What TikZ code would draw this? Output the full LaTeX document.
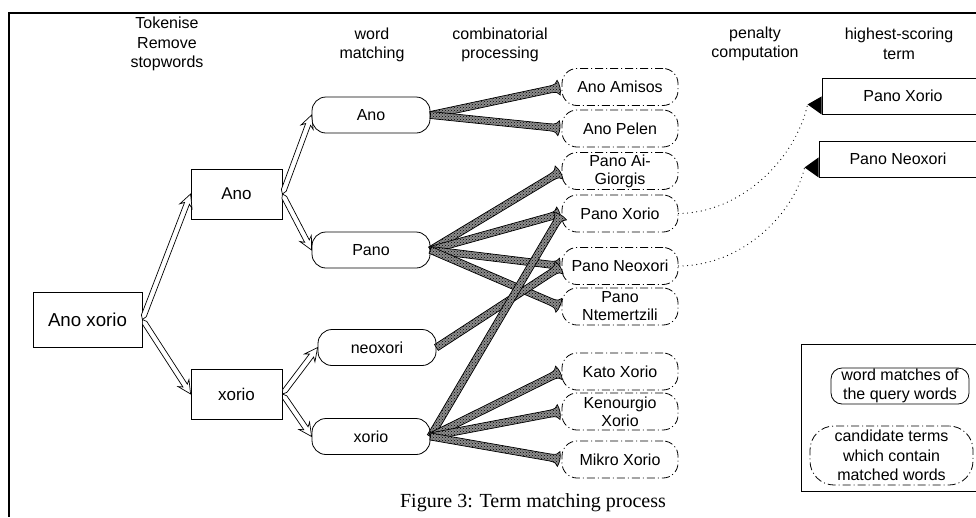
\documentclass[tikz,border=0pt]{standalone}
\usepackage{fontspec}
\setmainfont{Liberation Sans}
\newfontfamily\capfont{Liberation Serif}
\usetikzlibrary{calc,patterns}

% hollow white arrow between two anchors
\newcommand\hollowarrow[2]{%
  \path[hollow] let \p1=(#1), \p2=(#2),
     \n1={atan2(\y2-\y1,\x2-\x1)}, \n2={veclen(\x2-\x1,\y2-\y1)} in
     [shift={(\p1)}, rotate=\n1]
     (0pt,0pt) -- (4pt,2.6pt) -- ({\n2*1pt-10pt},2.6pt) -- ({\n2*1pt-13pt},6.5pt)
     -- ({\n2*1pt},0pt) -- ({\n2*1pt-13pt},-6.5pt) -- ({\n2*1pt-10pt},-2.6pt)
     -- (4pt,-2.6pt) -- cycle;}

% thick hatched arrow with a flared end
\newcommand\combarrow[2]{%
  \path[comb] let \p1=(#1), \p2=(#2),
     \n1={atan2(\y2-\y1,\x2-\x1)}, \n2={veclen(\x2-\x1,\y2-\y1)-3} in
     [shift={(\p1)}, rotate=\n1]
     (0pt,3.5pt) -- ({\n2*1pt-9pt},3.5pt)
     .. controls ({\n2*1pt-3pt},3.5pt) and ({\n2*1pt-1pt},5pt) .. ({\n2*1pt},7.5pt)
     .. controls ({\n2*1pt+1.8pt},3pt) and ({\n2*1pt+1.8pt},-3pt) .. ({\n2*1pt},-7.5pt)
     .. controls ({\n2*1pt-1pt},-5pt) and ({\n2*1pt-3pt},-3.5pt) .. ({\n2*1pt-9pt},-3.5pt)
     -- (0pt,-3.5pt) -- cycle;}

\tikzset{
  txt/.style={font=\fontsize{16}{19.5}\selectfont, align=center, inner sep=0pt},
  tok/.style={draw, line width=0.8pt, rectangle, minimum width=91pt, minimum height=50pt,
    font=\fontsize{17}{20}\selectfont, inner sep=0pt},
  match/.style={draw, line width=0.8pt, rounded corners=14pt, minimum width=118pt,
    minimum height=36pt, font=\fontsize{16}{19}\selectfont, inner sep=0pt},
  cand/.style={draw, line width=0.8pt, rounded corners=15pt,
    dash pattern=on 8pt off 3pt on 1pt off 3pt, minimum width=116pt, minimum height=37pt,
    font=\fontsize{16}{18}\selectfont, align=center, inner sep=0pt},
  best/.style={draw, line width=0.9pt, rectangle, minimum height=36pt,
    font=\fontsize{16}{19}\selectfont, inner sep=0pt},
  hollow/.style={draw, fill=white, line width=0.7pt, line join=miter},
  comb/.style={preaction={fill=black!45}, preaction={pattern=crosshatch dots, pattern color=black},
    draw=black, line width=0.7pt},
  dotline/.style={line width=1.2pt, line cap=round, dash pattern=on 0pt off 4.6pt},
}

\begin{document}
\begin{tikzpicture}[x=1pt, y=-1pt]
\useasboundingbox (0,0) rectangle (976,517);
\clip (0,0) rectangle (976,517);

% outer frame
\draw[line width=1.6pt] (976,13) -- (9,13) -- (9,517);

% column headings
\node[txt] (h1) at (167,44) {Tokenise\\Remove\\stopwords};
\node[txt] (h2) at (372,45) {word\\matching};
\node[txt] (h3) at (500,45) {combinatorial\\processing};
\node[txt] (h4) at (755,44) {penalty\\computation};
\node[txt] (h5) at (899,44) {highest-scoring\\term};

% query and its tokens
\node[tok, minimum width=109pt, minimum height=55pt, font=\fontsize{18.7}{22}\selectfont]
  (q) at (87.5,319.5) {Ano xorio};
\node[tok] (tA) at (236.5,194) {Ano};
\node[tok] (tX) at (236.5,394) {xorio};

% word matches
\node[match] (mA) at (371,115) {Ano};
\node[match] (mP) at (371,250) {Pano};
\node[match] (mN) at (377,347.5) {neoxori};
\node[match] (mX) at (371,436.5) {xorio};

% candidate terms
\node[cand] (cAm) at (620,87)    {Ano Amisos};
\node[cand] (cAp) at (620,128.5) {Ano Pelen};
\node[cand] (cAg) at (620,171)   {Pano Ai-\\Giorgis};
\node[cand] (cPx) at (620,213.5) {Pano Xorio};
\node[cand] (cPn) at (620,266)   {Pano Neoxori};
\node[cand] (cPt) at (620,306.5) {Pano\\Ntemertzili};
\node[cand] (cKa) at (620,371.5) {Kato Xorio};
\node[cand] (cKe) at (620,411.5) {Kenourgio\\Xorio};
\node[cand] (cMi) at (620,459.5) {Mikro Xorio};

% highest-scoring terms
\node[best, minimum width=162pt] (b1) at (903,96) {Pano Xorio};
\node[best, minimum width=158pt] (b2) at (898,159) {Pano Neoxori};

% tokenising and matching steps
\hollowarrow{q.east}{tA.west}
\hollowarrow{q.east}{tX.west}
\hollowarrow{tA.east}{mA.west}
\hollowarrow{tA.east}{mP.west}
\hollowarrow{tX.east}{mN.west}
\hollowarrow{tX.east}{mX.west}

% combinatorial processing
\combarrow{mA.east}{cAm.west}
\combarrow{mA.east}{cAp.west}
\combarrow{mP.east}{cAg.west}
\combarrow{mP.east}{cPx.west}
\combarrow{mP.east}{cPn.west}
\combarrow{mP.east}{cPt.west}
\combarrow{mN.east}{cPn.west}
\combarrow{mX.east}{cPx.west}
\combarrow{mX.east}{cKa.west}
\combarrow{mX.east}{cKe.west}
\combarrow{mX.east}{cMi.west}

% penalty computation links
\coordinate (t1) at ($(b1.south west)+(-14pt,10pt)$);
\coordinate (t2) at ($(b2.south west)+(-14pt,10pt)$);
\draw[dotline] (cPx.east) .. controls (742,213) and (796,158) .. (t1);
\draw[dotline] (cPn.east) .. controls (742,266) and (794,214) .. (t2);
\fill (b1.south west) -- (t1) -- ($(b1.south west)+(0pt,18pt)$) -- cycle;
\fill (b2.south west) -- (t2) -- ($(b2.south west)+(0pt,20pt)$) -- cycle;

% legend
\node[draw, line width=0.8pt, anchor=north west, minimum width=190pt, minimum height=147pt,
  inner sep=0pt] (leg) at (801,344) {};
\node[match, rounded corners=11pt, minimum width=138pt, align=center,
  font=\fontsize{16}{19}\selectfont] (lw) at (900,386) {word matches of\\the query words};
\node[cand, rounded corners=24pt, minimum width=163pt, minimum height=59pt,
  font=\fontsize{16}{19.5}\selectfont] (lc) at (891.5,455.5)
  {candidate terms\\which contain\\matched words};

% caption
\node[inner sep=0pt, font=\capfont\fontsize{20}{24}\selectfont] (cap) at (533,503)
  {Figure 3: Term matching process};
\end{tikzpicture}
\end{document}
